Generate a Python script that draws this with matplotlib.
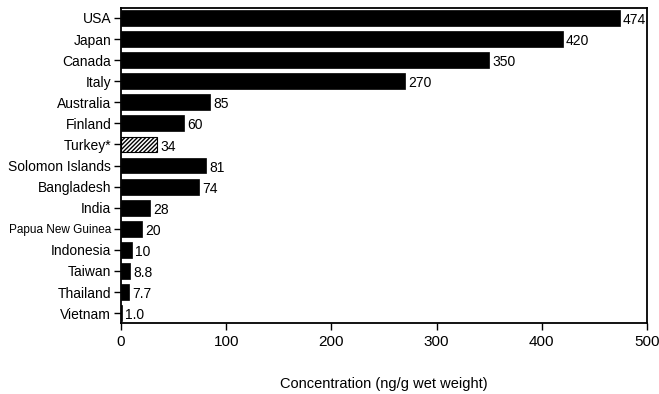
import numpy as np
import matplotlib.pyplot as plt

plt.rcParams['font.family'] = ['Liberation Sans', 'DejaVu Sans']

# data
countries = ['USA', 'Japan', 'Canada', 'Italy', 'Australia', 'Finland', 'Turkey*',
             'Solomon Islands', 'Bangladesh', 'India', 'Papua New Guinea',
             'Indonesia', 'Taiwan', 'Thailand', 'Vietnam']
values = [474, 420, 350, 270, 85, 60, 34, 81, 74, 28, 20, 10, 8.8, 7.7, 1.0]
value_text = ['474', '420', '350', '270', '85', '60', '34', '81', '74', '28', '20',
              '10', '8.8', '7.7', '1.0']
hatched = ['Turkey*']

fig = plt.figure(figsize=(6.59, 3.94), dpi=100)
ax = fig.add_axes([0.1836, 0.180, 0.7982, 0.7997])

y = np.arange(len(countries))
for i, (c, v) in enumerate(zip(countries, values)):
    if c in hatched:
        ax.barh(i, v, height=0.75, color='white', edgecolor='black',
                hatch='////////', linewidth=0.8)
    else:
        ax.barh(i, v, height=0.75, color='black', edgecolor='black', linewidth=0.5)
    ax.text(v + 3, i + 0.1, value_text[i], va='center', ha='left', fontsize=10)

ax.set_ylim(len(countries) - 0.53, -0.47)
ax.set_xlim(0, 500)
ax.set_yticks(y)
ax.set_yticklabels(countries, fontsize=10)
for lab in ax.get_yticklabels():
    if lab.get_text() == 'Papua New Guinea':
        lab.set_fontsize(8.5)
ax.set_xticks([0, 100, 200, 300, 400, 500])
ax.tick_params(axis='x', labelsize=11, direction='out', length=5, width=1)
ax.tick_params(axis='y', direction='out', length=5, width=1, pad=2)
for s in ax.spines.values():
    s.set_linewidth(1.3)
ax.set_xlabel('Concentration (ng/g wet weight)', fontsize=10.5, labelpad=20)

fig.savefig('out.png', dpi=100)
